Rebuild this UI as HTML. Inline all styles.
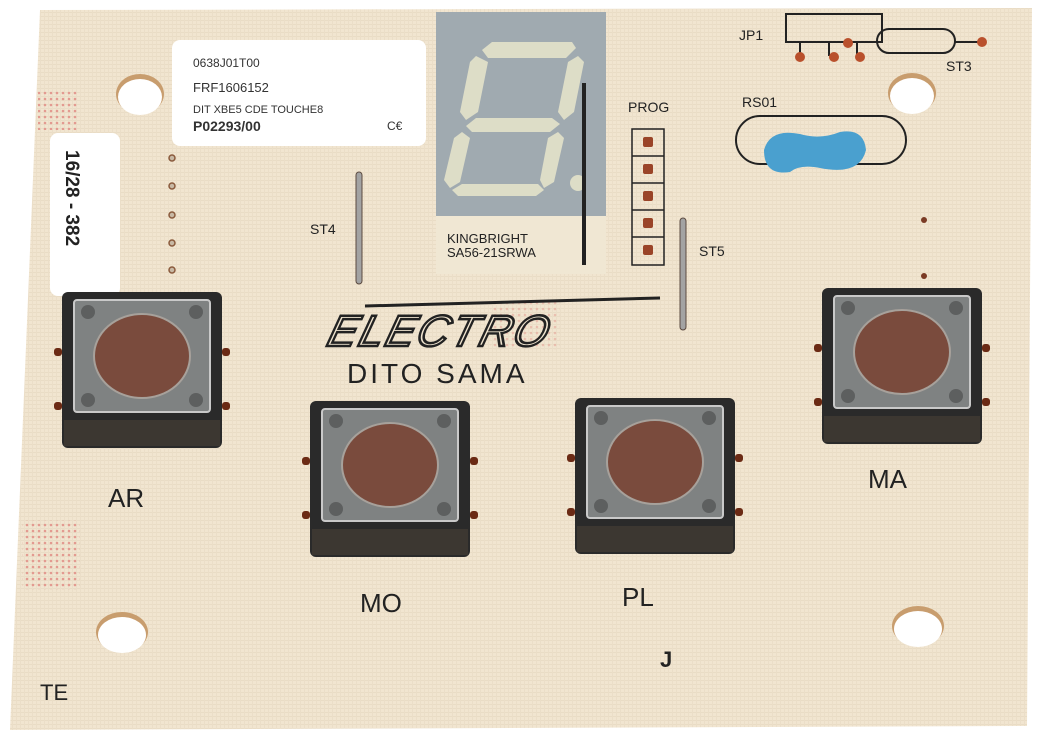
<!DOCTYPE html>
<html><head><meta charset="utf-8"><style>
html,body{margin:0;padding:0;background:#fff;width:1052px;height:736px;overflow:hidden}
svg{display:block}
text{font-family:"Liberation Sans",sans-serif}
</style></head><body>
<svg width="1052" height="736" viewBox="0 0 1052 736" xmlns="http://www.w3.org/2000/svg">
<defs>
<pattern id="grid" width="4" height="4" patternUnits="userSpaceOnUse">
<rect width="4" height="4" fill="#f1e5d0"/><rect width="4" height="1" fill="#e9dcc5"/><rect width="1" height="4" fill="#ebdec8"/>
</pattern>
<pattern id="dots" width="6" height="6" patternUnits="userSpaceOnUse">
<circle cx="3" cy="3" r="1.3" fill="#e39a90"/>
</pattern>
<g id="btn">
<rect x="0" y="0" width="160" height="156" rx="6" fill="#2a2a2a"/>
<rect x="2" y="128" width="156" height="26" fill="#3c3731"/>
<rect x="12" y="8" width="136" height="112" rx="3" fill="#7f8282" stroke="#c9c9c9" stroke-width="2"/>
<circle cx="26" cy="20" r="7" fill="#5d5f5f"/><circle cx="134" cy="20" r="7" fill="#5d5f5f"/>
<circle cx="26" cy="108" r="7" fill="#5d5f5f"/><circle cx="134" cy="108" r="7" fill="#5d5f5f"/>
<ellipse cx="80" cy="64" rx="48" ry="42" fill="#7a4b3d" stroke="#a7a19b" stroke-width="2"/>
<rect x="-8" y="56" width="8" height="8" rx="3" fill="#6b2a14"/><rect x="-8" y="110" width="8" height="8" rx="3" fill="#6b2a14"/>
<rect x="160" y="56" width="8" height="8" rx="3" fill="#6b2a14"/><rect x="160" y="110" width="8" height="8" rx="3" fill="#6b2a14"/>
</g>
</defs>
<polygon points="40,10 1032,8 1027,726 10,730" fill="url(#grid)"/>
<!-- holes -->
<ellipse cx="140" cy="94" rx="24" ry="20" fill="#c89d6e"/><ellipse cx="140" cy="97" rx="22" ry="18" fill="#fff"/>
<ellipse cx="912" cy="93" rx="24" ry="20" fill="#c89d6e"/><ellipse cx="912" cy="96" rx="22" ry="18" fill="#fff"/>
<ellipse cx="122" cy="632" rx="26" ry="20" fill="#c89d6e"/><ellipse cx="122" cy="635" rx="24" ry="18" fill="#fff"/>
<ellipse cx="918" cy="626" rx="26" ry="20" fill="#c89d6e"/><ellipse cx="918" cy="629" rx="24" ry="18" fill="#fff"/>
<!-- pink marks -->
<rect x="38" y="90" width="40" height="40" fill="url(#dots)"/><rect x="22" y="520" width="58" height="70" fill="url(#dots)"/><rect x="490" y="300" width="70" height="50" fill="url(#dots)" opacity="0.5"/>
<!-- labels -->
<rect x="172" y="40" width="254" height="106" rx="8" fill="#fff"/>
<text x="193" y="67" font-size="12" fill="#333">0638J01T00</text>
<text x="193" y="92" font-size="13" fill="#333">FRF1606152</text>
<text x="193" y="113" font-size="11" fill="#333">DIT XBE5 CDE TOUCHE8</text>
<text x="193" y="131" font-size="14" font-weight="bold" fill="#333">P02293/00</text>
<text x="387" y="130" font-size="12" fill="#333">C€</text>
<rect x="50" y="133" width="70" height="163" rx="8" fill="#fff"/>
<text transform="translate(66,150) rotate(90)" font-size="19" font-weight="bold" fill="#222">16/28 - 382</text>
<!-- pins left -->
<g fill="#c8b9a5" stroke="#8a5a3c" stroke-width="1.5"><circle cx="172" cy="158" r="3"/><circle cx="172" cy="186" r="3"/><circle cx="172" cy="215" r="3"/><circle cx="172" cy="243" r="3"/><circle cx="172" cy="270" r="3"/></g>
<!-- ST4 wire -->
<rect x="356" y="172" width="6" height="112" rx="3" fill="#a3a3a3" stroke="#5b4a40" stroke-width="1"/>
<text x="310" y="234" font-size="14" fill="#222">ST4</text>
<!-- display -->
<rect x="436" y="12" width="170" height="262" fill="#f0e7d3"/>
<rect x="436" y="12" width="170" height="204" fill="#a0aab0"/>
<g fill="#ddddc7">
<polygon points="492,42 572,42 576,48 566,58 488,58 482,50"/>
<polygon points="476,56 488,62 478,112 466,120 460,112 470,62"/>
<polygon points="578,56 584,62 574,112 564,120 558,112 568,62"/>
<polygon points="476,118 552,118 560,124 550,132 472,132 466,126"/>
<polygon points="462,132 470,138 460,182 450,188 444,180 454,138"/>
<polygon points="558,132 564,138 554,182 544,188 540,180 548,138"/>
<polygon points="462,184 538,184 544,190 536,196 458,196 452,190"/>
<circle cx="578" cy="183" r="8"/>
</g>
<text x="447" y="243" font-size="13" fill="#222" font-family="Liberation Mono">KINGBRIGHT</text>
<text x="447" y="257" font-size="13" fill="#222" font-family="Liberation Mono">SA56-21SRWA</text>
<rect x="582" y="83" width="4" height="182" fill="#222"/>
<!-- PROG -->
<text x="628" y="112" font-size="14" fill="#222">PROG</text>
<g stroke="#222" stroke-width="1.5" fill="none"><rect x="632" y="129" width="32" height="136"/><line x1="632" y1="156" x2="664" y2="156"/><line x1="632" y1="183" x2="664" y2="183"/><line x1="632" y1="210" x2="664" y2="210"/><line x1="632" y1="237" x2="664" y2="237"/></g>
<g fill="#9a4428"><rect x="643" y="137" width="10" height="10" rx="2"/><rect x="643" y="164" width="10" height="10" rx="2"/><rect x="643" y="191" width="10" height="10" rx="2"/><rect x="643" y="218" width="10" height="10" rx="2"/><rect x="643" y="245" width="10" height="10" rx="2"/></g>
<rect x="680" y="218" width="6" height="112" rx="3" fill="#a3a3a3" stroke="#5b4a40" stroke-width="1"/>
<text x="699" y="256" font-size="14" fill="#222">ST5</text>
<!-- JP1 -->
<text x="739" y="40" font-size="14" fill="#222">JP1</text>
<g stroke="#222" stroke-width="2" fill="none"><rect x="786" y="14" width="96" height="28"/><line x1="800" y1="42" x2="800" y2="56"/><line x1="829" y1="42" x2="829" y2="56"/><line x1="857" y1="42" x2="857" y2="56"/><rect x="877" y="29" width="78" height="24" rx="12"/><line x1="955" y1="42" x2="978" y2="42"/></g>
<g fill="#b9502c"><circle cx="800" cy="57" r="5"/><circle cx="834" cy="57" r="5"/><circle cx="860" cy="57" r="5"/><circle cx="848" cy="43" r="5"/><circle cx="982" cy="42" r="5"/></g>
<text x="946" y="71" font-size="14" fill="#222">ST3</text>
<text x="742" y="107" font-size="14" fill="#222">RS01</text>
<rect x="736" y="116" width="170" height="48" rx="24" fill="none" stroke="#222" stroke-width="2"/>
<path d="M764 150 Q770 128 800 134 Q820 140 840 132 Q864 128 866 150 Q860 176 820 168 Q800 164 790 172 Q764 176 764 150Z" fill="#4aa0cf"/>
<circle cx="924" cy="220" r="3" fill="#7a3a24"/><circle cx="924" cy="276" r="3" fill="#7a3a24"/>
<!-- logo -->
<line x1="365" y1="306" x2="660" y2="298" stroke="#222" stroke-width="3"/>
<text x="328" y="346" font-size="44" font-style="italic" fill="#f1e5d0" stroke="#222" stroke-width="2.5" letter-spacing="2" transform="skewX(-15) translate(90,0)">ELECTRO</text>
<text x="347" y="383" font-size="28" fill="#222" letter-spacing="3" font-family="Liberation Mono">DITO SAMA</text>
<!-- buttons -->
<use href="#btn" x="62" y="292"/>
<use href="#btn" x="310" y="401"/>
<use href="#btn" x="575" y="398"/>
<use href="#btn" x="822" y="288"/>
<text x="108" y="507" font-size="26" fill="#222">AR</text>
<text x="360" y="612" font-size="26" fill="#222">MO</text>
<text x="622" y="606" font-size="26" fill="#222">PL</text>
<text x="868" y="488" font-size="26" fill="#222">MA</text>
<text x="660" y="667" font-size="22" font-weight="bold" fill="#222">J</text>
<text x="40" y="700" font-size="22" fill="#222">TE</text>
</svg>
</body></html>
